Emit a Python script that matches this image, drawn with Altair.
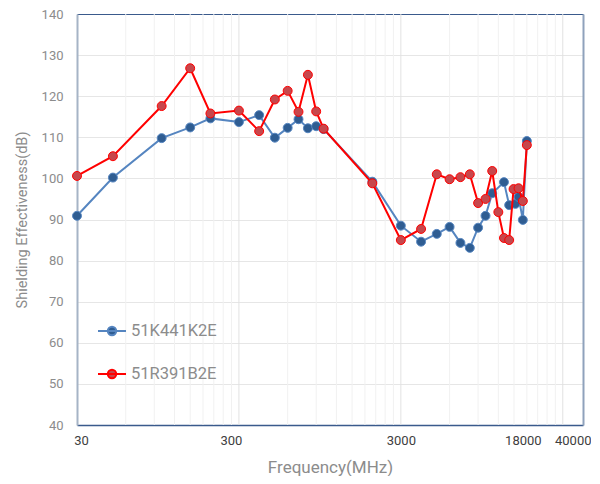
import altair as alt
import pandas as pd

series_names = ["51K441K2E", "51R391B2E"]

blue_freq = [30, 50, 100, 150, 200, 300, 400, 500, 600, 700, 800, 900, 1000, 2000, 3000,
             4000, 5000, 6000, 7000, 8000, 9000, 10000, 11000, 13000, 14000, 15300, 16000,
             17000, 18000]
blue_se = [90.9, 100.2, 109.8, 112.4, 114.6, 113.7, 115.4, 109.9, 112.3, 114.4, 112.2, 112.7,
           112.0, 99.2, 88.5, 84.6, 86.5, 88.2, 84.3, 83.1, 88.0, 90.9, 96.4, 99.1, 93.5, 93.8,
           95.5, 89.9, 109.1]

red_freq = [30, 50, 100, 150, 200, 300, 400, 500, 600, 700, 800, 900, 1000, 2000, 3000,
            4000, 5000, 6000, 7000, 8000, 9000, 10000, 11000, 12000, 13000, 14000, 14900,
            16000, 17000, 18000]
red_se = [100.6, 105.4, 117.6, 126.8, 115.8, 116.5, 111.5, 119.2, 121.3, 116.2, 125.2, 116.3,
          112.1, 98.8, 85.0, 87.7, 101.0, 99.8, 100.3, 101.0, 94.0, 95.0, 101.8, 91.8, 85.5,
          85.0, 97.4, 97.6, 94.5, 108.1]

x_tick_labels = [30, 300, 3000, 18000, 40000]
y_ticks = list(range(40, 141, 10))
grid_minor = [60, 90, 120, 150, 180, 210, 240, 270,
              600, 900, 1200, 1500, 1800, 2100, 2400, 2700,
              6000, 9000, 12000, 15000, 18000, 21000, 24000, 27000]
grid_major = [300, 3000, 30000]

line_colors = ["#5585c0", "#ff0000"]
marker_fill = ["#2f5d92", "#c7474c"]

FONT = "Roboto, sans-serif"

df = pd.concat([
    pd.DataFrame({"freq": blue_freq, "se": blue_se, "series": series_names[0]}),
    pd.DataFrame({"freq": red_freq, "se": red_se, "series": series_names[1]}),
])
grid_df = pd.DataFrame({"g": grid_minor + grid_major,
                        "kind": ["minor"] * len(grid_minor) + ["major"] * len(grid_major)})

xscale = alt.Scale(type="log", domain=[30, 40000], nice=False)
yscale = alt.Scale(domain=[40, 140], nice=False, zero=False)

legend_path = ("M-1,0L1,0M0.3,0A0.3,0.3,0,1,1,-0.3,0A0.3,0.3,0,1,1,0.3,0Z")
leg = alt.Legend(title=None, orient="none", legendX=20, legendY=302,
                 symbolType=legend_path, symbolSize=784, symbolStrokeWidth=2,
                 labelFontSize=16.5, labelColor="#8c8c8c", labelFont=FONT,
                 rowPadding=19, labelOffset=4)

stroke_enc = alt.Stroke("series:N", scale=alt.Scale(domain=series_names, range=line_colors),
                        legend=leg)
fill_enc = alt.Fill("series:N", scale=alt.Scale(domain=series_names, range=marker_fill),
                    legend=leg)

grid = alt.Chart(grid_df).mark_rule(strokeWidth=1).encode(
    x=alt.X("g:Q", scale=xscale,
            axis=alt.Axis(orient="top", labels=False, ticks=False, grid=False, title=None,
                          domainColor="#3a5a8c", domainWidth=1)),
    color=alt.Color("kind:N", scale=alt.Scale(domain=["minor", "major"],
                                              range=["#f1f1f1", "#e2e2e2"]), legend=None),
)

y_right = alt.Chart(grid_df).mark_rule(opacity=0).encode(
    y=alt.Y("g:Q", scale=yscale,
            axis=alt.Axis(orient="right", labels=False, ticks=False, grid=False, title=None,
                          domainColor="#8fa2bc", domainWidth=2)),
)

label_align = {"condition": {"test": "datum.value == 40000", "value": "right"},
               "value": "center"}
label_offset = {"condition": [
    {"test": "datum.value == 30", "value": 4},
    {"test": "datum.value == 300", "value": -8},
    {"test": "datum.value == 18000", "value": -4},
    {"test": "datum.value == 40000", "value": 8},
], "value": 0}

x_enc = alt.X("freq:Q", scale=xscale,
              axis=alt.Axis(values=x_tick_labels, format="d", grid=False, ticks=False,
                            domainColor="#3a5a8c", domainWidth=1.5,
                            labelColor="#404040", labelFontSize=13, labelFont=FONT,
                            labelPadding=9, labelFlush=False,
                            labelAlign=label_align, labelOffset=label_offset,
                            title="Frequency(MHz)", titleFontSize=17, titleColor="#8c8c8c",
                            titleFont=FONT, titleFontWeight="normal", titlePadding=12))
y_enc = alt.Y("se:Q", scale=yscale,
              axis=alt.Axis(values=y_ticks, grid=True, gridColor="#e6e6e6", ticks=False,
                            domainColor="#a6b4c6", domainWidth=2,
                            labelColor="#8c8c8c", labelFontSize=13, labelFont=FONT,
                            labelPadding=14,
                            title="Shielding Effectiveness(dB)", titleFontSize=14.5,
                            titleColor="#8c8c8c", titleFont=FONT, titleFontWeight="normal",
                            titlePadding=12))

layers = []
for name in series_names:
    base = alt.Chart(df).transform_filter(alt.datum.series == name)
    layers.append(base.mark_line(strokeWidth=2).encode(x=x_enc, y=y_enc, stroke=stroke_enc))
    layers.append(base.mark_point(filled=True, size=80, opacity=1, strokeWidth=1).encode(
        x=x_enc, y=y_enc, fill=fill_enc, stroke=stroke_enc))

data_layer = alt.layer(*layers)

chart = alt.layer(grid, y_right, data_layer).resolve_axis(
    x="independent", y="independent"
).properties(
    width=506, height=411,
    autosize=alt.AutoSizeParams(type="none"),
    padding={"left": 69, "top": 6, "right": 8, "bottom": 51},
).configure_view(stroke=None).configure(font=FONT)

chart.save("out.html", embed_options={"renderer": "svg", "actions": False})
